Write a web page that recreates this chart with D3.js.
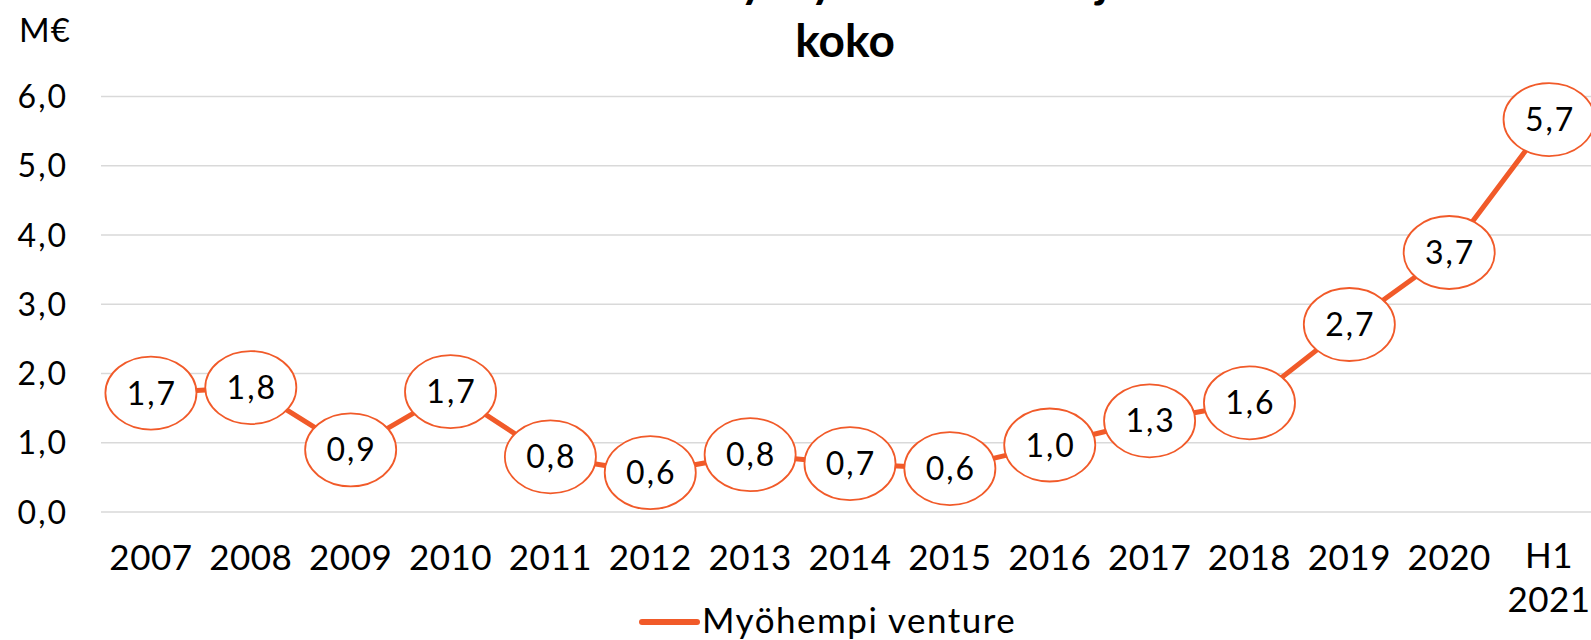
<!DOCTYPE html>
<html><head><meta charset="utf-8">
<script src="https://cdn.jsdelivr.net/npm/d3@7"></script>
<style>
html,body{margin:0;padding:0;background:#fff;}
svg{display:block;}
text{font-family:Lato, "Noto Sans", sans-serif;fill:#000;}
</style></head>
<body>
<svg id="chart" width="1591" height="640"></svg>
<script>
// ---- data ----
const categories = ["2007","2008","2009","2010","2011","2012","2013","2014","2015","2016","2017","2018","2019","2020","H1 2021"];
const values = [1.71,1.79,0.89,1.73,0.79,0.56,0.82,0.69,0.62,0.96,1.31,1.57,2.70,3.74,5.66];
const yTicks = [0,1,2,3,4,5,6];
const seriesName = "Myöhempi venture";
const titleLines = ["Keskimääräinen yrityskohtaisen sijoituksen", "koko"];
const unitLabel = "M€";

const color = "#F15A29";
const textW = 400;
const svg = d3.select("#chart");
const fmt = v => d3.format(".1f")(v).replace(".", ",");

const x = d3.scaleBand().domain(categories).range([101, 1599]).padding(0);
const y = d3.scaleLinear().domain([0, 6]).range([511.5, 96]);

// title
svg.append("g").selectAll("text").data(titleLines).join("text")
  .attr("x", 845).attr("y", (d,i) => -3 + i*60)
  .attr("text-anchor", "middle").attr("font-weight", 700).attr("font-size", 46)
  .text(d => d);

// unit
svg.append("text").attr("x", 19).attr("y", 42).attr("font-size", 33).attr("font-weight", textW)
  .attr("letter-spacing", 1).text(unitLabel);

// grid
const yAxis = d3.axisLeft(y).tickValues(yTicks).tickSize(-(1599-101)).tickFormat(fmt).tickPadding(33);
const gy = svg.append("g").attr("transform", "translate(101,0)").call(yAxis);
gy.select(".domain").remove();
gy.selectAll(".tick line").attr("stroke", "#d9d9d9").attr("stroke-width", 1.5);
gy.selectAll(".tick text").attr("font-size", 32).attr("fill", "#000").attr("font-weight", textW)
  .attr("letter-spacing", 2)
  .attr("font-family", "Lato, sans-serif").attr("dy", "0.36em");

// x axis labels
const xAxis = d3.axisBottom(x).tickSize(0).tickFormat("");
const gx = svg.append("g").attr("transform", "translate(0,511.5)").call(xAxis);
gx.select(".domain").remove();
gx.selectAll(".tick").each(function(d){
  const parts = d.split(" ");
  const t = d3.select(this).append("text").attr("text-anchor","middle")
    .attr("font-size", 35).attr("fill","#000").attr("font-weight", textW).attr("letter-spacing", 0.5);
  parts.forEach((p,i) => t.append("tspan").attr("x",0).attr("y", 58 + i*44 - (parts.length>1?2:0)).text(p));
});

// line
const line = d3.line().x((d,i) => x(categories[i]) + x.bandwidth()/2).y(d => y(d));
svg.append("path").datum(values).attr("d", line)
  .attr("fill","none").attr("stroke", color).attr("stroke-width", 5).attr("stroke-linejoin","round");

// labels with ellipses
const lg = svg.append("g").selectAll("g").data(values).join("g")
  .attr("transform", (d,i) => `translate(${x(categories[i]) + x.bandwidth()/2},${y(d)})`);
lg.append("ellipse").attr("fill","#fff").attr("stroke", color).attr("stroke-width", 1.8).attr("ry", 36.5);
const lt = lg.append("text").attr("text-anchor","middle").attr("font-size", 32).attr("font-weight", textW)
  .attr("letter-spacing", 2).attr("dx", 1).attr("dy","0.36em").text(d => fmt(d));
lt.each(function(){
  const w = this.getComputedTextLength();
  d3.select(this.parentNode).select("ellipse").attr("rx", (w + 14) * 0.7071);
});

// legend
const leg = svg.append("g");
leg.append("line").attr("x1", 642).attr("x2", 697).attr("y1", 622).attr("y2", 622)
  .attr("stroke", color).attr("stroke-width", 6).attr("stroke-linecap","round");
leg.append("text").attr("x", 702).attr("y", 633).attr("font-size", 35).attr("font-weight", textW)
  .attr("letter-spacing", 1.5).text(seriesName);
</script>
</body></html>
